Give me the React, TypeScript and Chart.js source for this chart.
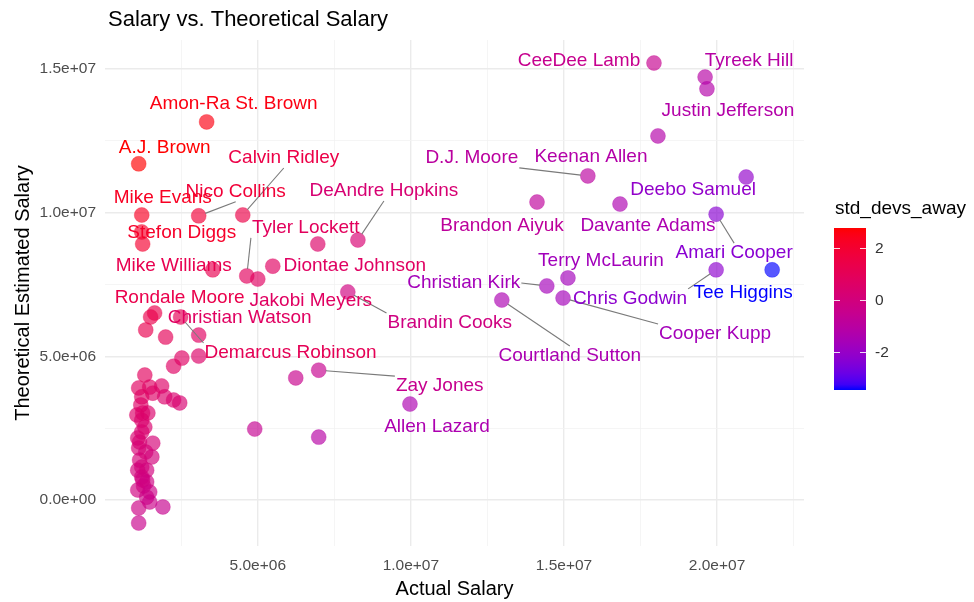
import React, { useEffect, useRef } from "react";
import { Chart, registerables } from "chart.js";

Chart.register(...registerables);

// ---------------- DATA ----------------
const playerNames: string[] = [
  "CeeDee Lamb", "Tyreek Hill", "Justin Jefferson", "Keenan Allen", "D.J. Moore",
  "Deebo Samuel", "Amari Cooper", "Davante Adams", "Brandon Aiyuk", "DeAndre Hopkins",
  "Terry McLaurin", "Christian Kirk", "Cooper Kupp", "Chris Godwin", "Tee Higgins",
  "Courtland Sutton", "Brandin Cooks", "Jakobi Meyers", "Tyler Lockett", "Diontae Johnson",
  "Calvin Ridley", "Nico Collins", "Mike Evans", "Stefon Diggs", "Mike Williams",
  "A.J. Brown", "Amon-Ra St. Brown", "Rondale Moore", "Demarcus Robinson", "Christian Watson",
  "Zay Jones", "Allen Lazard",
  "", "", "", "", "", "", "", "", "", "", "", "", "", "", "", "", "", "", "", "", "", "", "", "",
  "", "", "", "", "", "", "", "", "", "", "", "", "", "", "", "", "", "", "", "", "", "", "", "",
];

const actualSalary: number[] = [
  17940000, 19610000, 19670000, 18070000, 15780000,
  20950000, 19970000, 16830000, 14120000, 8270000,
  15130000, 14440000, 14970000, 19970000, 21800000,
  12970000, 7940000, 5000000, 4640000, 5490000,
  4510000, 3070000, 1210000, 1210000, 3530000,
  1110000, 3330000, 1630000, 2480000, 3070000,
  6990000, 9970000,
  6960000, 1240000, 1500000, 6240000, 4900000, 6990000, 3070000, 2520000,
  2250000, 1990000, 1340000, 1310000, 1110000, 1470000, 1860000, 1570000,
  1960000, 1210000, 2450000, 2250000, 1180000, 1240000, 1410000, 1050000,
  1210000, 1310000, 1210000, 1080000, 1140000, 1570000, 1110000, 1340000,
  1540000, 1140000, 1210000, 1370000, 1080000, 1210000, 1240000, 1370000,
  1270000, 1080000, 1470000, 1370000, 1470000, 1110000, 1900000, 1110000,
];

const theoreticalSalary: number[] = [
  15210000, 14720000, 14310000, 12670000, 11280000,
  11240000, 9950000, 10300000, 10370000, 9050000,
  7730000, 7450000, 7030000, 8010000, 8010000,
  6960000, 7240000, 7690000, 7800000, 8140000,
  9920000, 9890000, 9920000, 9330000, 8010000,
  11700000, 13160000, 6510000, 6370000, 5740000,
  4520000, 3340000,
  8910000, 8910000, 6370000, 4250000, 2470000, 2190000, 5010000, 4940000,
  4660000, 5670000, 5920000, 4350000, 3900000, 3930000, 3970000, 3720000,
  3590000, 3590000, 3380000, 3480000, 3310000, 3030000, 3030000, 2960000,
  2780000, 2540000, 2370000, 2160000, 2020000, 1980000, 1810000, 1670000,
  1500000, 1390000, 1150000, 1040000, 1040000, 800000, 700000, 630000,
  490000, 350000, 280000, 100000, -70000, -280000, -240000, -800000,
];

const stdDevsAway: number[] = [
  -0.5, -1.1, -1.2, -1.2, -0.95,
  -2.1, -2.3, -1.4, -0.85, 0.26,
  -1.7, -1.65, -1.65, -2.2, -3.46,
  -1.45, -0.12, 0.75, 0.87, 0.74,
  1.45, 1.81, 2.29, 2.14, 1.21,
  2.77, 2.58, 1.31, 1.06, 0.75,
  -0.5, -1.4,
  0.56, 2.02, 1.31, -0.44, -0.56, -1.1, 0.56, 0.68,
  0.68, 1.0, 1.23, 0.84, 0.78, 0.69, 0.6, 0.61,
  0.48, 0.67, 0.3, 0.38, 0.61, 0.52, 0.48, 0.55,
  0.47, 0.38, 0.36, 0.34, 0.29, 0.17, 0.24, 0.15,
  0.05, 0.13, 0.05, -0.02, 0.05, -0.04, -0.07, -0.13,
  -0.14, -0.12, -0.24, -0.26, -0.33, -0.29, -0.48, -0.42,
];

const xMajorTicks: number[] = [5000000, 10000000, 15000000, 20000000];
const xMinorTicks: number[] = [2500000, 7500000, 12500000, 17500000, 22500000];
const yMajorTicks: number[] = [0, 5000000, 10000000, 15000000];
const yMinorTicks: number[] = [2500000, 7500000, 12500000];
const legendTicks: number[] = [-2, 0, 2];

const chartTitle = "Salary vs. Theoretical Salary";
const xAxisTitle = "Actual Salary";
const yAxisTitle = "Theoretical Estimated Salary";
const legendTitle = "std_devs_away";

// ---------------- LAYOUT (label placement offsets in px, relative to point) ----------------
const labelOffsets: Record<string, [number, number]> = {
  "CeeDee Lamb": [-75, -2],
  "Tyreek Hill": [44, -16],
  "Justin Jefferson": [21, 22],
  "Keenan Allen": [-67, 21],
  "D.J. Moore": [-116, -18],
  "Deebo Samuel": [-53, 13],
  "Amari Cooper": [18, 39],
  "Davante Adams": [28, 22],
  "Brandon Aiyuk": [-35, 24],
  "DeAndre Hopkins": [26, -49],
  "Terry McLaurin": [33, -17],
  "Christian Kirk": [-83, -3],
  "Cooper Kupp": [152, 36],
  "Chris Godwin": [-86, 29],
  "Tee Higgins": [-29, 23],
  "Courtland Sutton": [68, 56],
  "Brandin Cooks": [102, 31],
  "Jakobi Meyers": [53, 22],
  "Tyler Lockett": [59, -48],
  "Diontae Johnson": [82, 0],
  "Calvin Ridley": [41, -57],
  "Nico Collins": [37, -24],
  "Mike Evans": [21, -17],
  "Stefon Diggs": [40, 1],
  "Mike Williams": [-39, -4],
  "A.J. Brown": [26, -16],
  "Amon-Ra St. Brown": [27, -18],
  "Rondale Moore": [25, -15],
  "Demarcus Robinson": [110, 36],
  "Christian Watson": [41, -17],
  "Zay Jones": [121, 16],
  "Allen Lazard": [27, 23],
};
const segmentNames = [
  "D.J. Moore", "Amari Cooper", "Chris Godwin", "Christian Kirk", "Cooper Kupp",
  "Courtland Sutton", "Brandin Cooks", "Tyler Lockett", "DeAndre Hopkins", "Calvin Ridley",
  "Nico Collins", "Demarcus Robinson", "Zay Jones",
];

const FONT = '"Liberation Sans", Arial, Helvetica, sans-serif';

// ---------------- COLOR (ggplot-like Lab gradient blue -> red) ----------------
const sMin = Math.min(...stdDevsAway);
const sMax = Math.max(...stdDevsAway);

function rgbToLab(r: number, g: number, b: number): [number, number, number] {
  const lin = (c: number) => {
    c /= 255;
    return c <= 0.04045 ? c / 12.92 : Math.pow((c + 0.055) / 1.055, 2.4);
  };
  const R = lin(r), G = lin(g), B = lin(b);
  const X = (0.4124 * R + 0.3576 * G + 0.1805 * B) / 0.95047;
  const Y = 0.2126 * R + 0.7152 * G + 0.0722 * B;
  const Z = (0.0193 * R + 0.1192 * G + 0.9505 * B) / 1.08883;
  const f = (t: number) => (t > 0.008856 ? Math.cbrt(t) : 7.787 * t + 16 / 116);
  const fx = f(X), fy = f(Y), fz = f(Z);
  return [116 * fy - 16, 500 * (fx - fy), 200 * (fy - fz)];
}
function labToRgb(L: number, a: number, b: number): [number, number, number] {
  const fy = (L + 16) / 116;
  const fx = fy + a / 500;
  const fz = fy - b / 200;
  const inv = (t: number) => (t * t * t > 0.008856 ? t * t * t : (t - 16 / 116) / 7.787);
  const X = inv(fx) * 0.95047, Y = inv(fy), Z = inv(fz) * 1.08883;
  const r = 3.2406 * X - 1.5372 * Y - 0.4986 * Z;
  const g = -0.9689 * X + 1.8758 * Y + 0.0415 * Z;
  const bb = 0.0557 * X - 0.204 * Y + 1.057 * Z;
  const gam = (c: number) => {
    c = Math.max(0, Math.min(1, c));
    return c <= 0.0031308 ? 12.92 * c : 1.055 * Math.pow(c, 1 / 2.4) - 0.055;
  };
  return [Math.round(gam(r) * 255), Math.round(gam(g) * 255), Math.round(gam(bb) * 255)];
}
const LOW = rgbToLab(0, 0, 255);
const HIGH = rgbToLab(255, 0, 0);
function colorFor(v: number, alpha = 1): string {
  const t = Math.max(0, Math.min(1, (v - sMin) / (sMax - sMin)));
  const [r, g, b] = labToRgb(
    LOW[0] + (HIGH[0] - LOW[0]) * t,
    LOW[1] + (HIGH[1] - LOW[1]) * t,
    LOW[2] + (HIGH[2] - LOW[2]) * t
  );
  return `rgba(${r},${g},${b},${alpha})`;
}

function fmtSci(v: number): string {
  return v.toExponential(1).replace(/e([+-])(\d)$/, "e$10$2");
}

// ggrepel-style connection: nearest corner / edge midpoint of the label box
function connection(px: number, py: number, x1: number, x2: number, y1: number, y2: number) {
  let qx: number, qy: number;
  if (px <= x1) qx = x1;
  else if (px >= x2) qx = x2;
  else qx = (x1 + x2) / 2;
  if (py <= y1) qy = y1;
  else if (py >= y2) qy = y2;
  else qy = (y1 + y2) / 2;
  return [qx, qy];
}

// ---------------- PLUGINS ----------------
const labelPlugin = {
  id: "repelLabels",
  afterDatasetsDraw(chart: any) {
    const ctx = chart.ctx;
    const xs = chart.scales.x;
    const ys = chart.scales.y;
    ctx.save();
    ctx.font = `19px ${FONT}`;
    ctx.textAlign = "center";
    ctx.textBaseline = "middle";
    const items: any[] = [];
    playerNames.forEach((name, i) => {
      if (!name || !labelOffsets[name]) return;
      const px = xs.getPixelForValue(actualSalary[i]);
      const py = ys.getPixelForValue(theoreticalSalary[i]);
      const off = labelOffsets[name];
      items.push({ name, i, px, py, lx: px + off[0], ly: py + off[1] });
    });
    ctx.strokeStyle = "#7a7a7a";
    ctx.lineWidth = 1.1;
    items.forEach((it) => {
      if (!segmentNames.includes(it.name)) return;
      const w = ctx.measureText(it.name).width;
      const [qx, qy] = connection(
        it.px, it.py,
        it.lx - w / 2 - 1, it.lx + w / 2 + 1,
        it.ly - 10, it.ly + 10
      );
      const dx = qx - it.px, dy = qy - it.py;
      const d = Math.hypot(dx, dy);
      if (d < 9) return;
      ctx.beginPath();
      ctx.moveTo(it.px + (dx / d) * 7, it.py + (dy / d) * 7);
      ctx.lineTo(qx, qy);
      ctx.stroke();
    });
    items.forEach((it) => {
      ctx.fillStyle = colorFor(stdDevsAway[it.i], 1);
      ctx.fillText(it.name, it.lx, it.ly);
    });
    ctx.restore();
  },
};

const decorPlugin = {
  id: "decor",
  afterDraw(chart: any) {
    const ctx = chart.ctx;
    ctx.save();
    ctx.fillStyle = "#000000";
    ctx.font = `22px ${FONT}`;
    ctx.textAlign = "left";
    ctx.textBaseline = "alphabetic";
    ctx.fillText(chartTitle, 108, 26);

    const barX = 834, barW = 32, barTop = 228, barBottom = 390;
    ctx.font = `19px ${FONT}`;
    ctx.textBaseline = "middle";
    ctx.fillText(legendTitle, 835, 209);
    const grad = ctx.createLinearGradient(0, barTop, 0, barBottom);
    const n = 30;
    for (let k = 0; k <= n; k++) {
      const t = k / n;
      grad.addColorStop(t, colorFor(sMax - (sMax - sMin) * t, 1));
    }
    ctx.fillStyle = grad;
    ctx.fillRect(barX, barTop, barW, barBottom - barTop);
    ctx.strokeStyle = "rgba(255,255,255,0.85)";
    ctx.lineWidth = 1;
    ctx.font = `15.5px ${FONT}`;
    ctx.fillStyle = "#333333";
    legendTicks.forEach((v) => {
      const y = Math.round(barBottom - ((v - sMin) / (sMax - sMin)) * (barBottom - barTop)) + 0.5;
      ctx.beginPath();
      ctx.moveTo(barX, y);
      ctx.lineTo(barX + 6, y);
      ctx.moveTo(barX + barW - 6, y);
      ctx.lineTo(barX + barW, y);
      ctx.stroke();
      ctx.fillText(String(v), barX + barW + 9, y);
    });
    ctx.restore();
  },
};

const xAll = [...xMajorTicks, ...xMinorTicks].sort((a, b) => a - b);
const yAll = [...yMajorTicks, ...yMinorTicks].sort((a, b) => a - b);

export default function App() {
  const ref = useRef<HTMLCanvasElement | null>(null);
  useEffect(() => {
    if (!ref.current) return;
    const gridColor = (majors: number[]) => (c: any) =>
      majors.includes(c.tick?.value) ? "#EBEBEB" : "#F2F2F2";
    const gridWidth = (majors: number[]) => (c: any) =>
      majors.includes(c.tick?.value) ? 1.4 : 0.8;
    const chart = new Chart(ref.current, {
      type: "scatter",
      data: {
        datasets: [
          {
            data: actualSalary.map((x, i) => ({ x, y: theoreticalSalary[i] })),
            backgroundColor: stdDevsAway.map((v) => colorFor(v, 0.66)),
            borderColor: stdDevsAway.map((v) => colorFor(v, 0.3)),
            borderWidth: 1,
            pointRadius: 7.5,
            pointHoverRadius: 7.5,
          },
        ],
      },
      options: {
        responsive: false,
        animation: false,
        events: [],
        layout: { padding: { top: 40, right: 170, left: 0, bottom: 0 } },
        plugins: {
          legend: { display: false },
          tooltip: { enabled: false },
          title: { display: false },
        },
        scales: {
          x: {
            type: "linear",
            min: 10000,
            max: 22840000,
            afterBuildTicks: (s: any) => {
              s.ticks = xAll.map((v) => ({ value: v }));
            },
            afterFit: (s: any) => {
              s.height = 56;
            },
            border: { display: false },
            grid: { color: gridColor(xMajorTicks), lineWidth: gridWidth(xMajorTicks), drawTicks: false },
            ticks: {
              autoSkip: false,
              maxRotation: 0,
              padding: 10,
              color: "#4D4D4D",
              font: { family: FONT, size: 15.5 },
              callback: (v: any) => (xMajorTicks.includes(v) ? fmtSci(v) : ""),
            },
            title: {
              display: true,
              text: xAxisTitle,
              color: "#000000",
              font: { family: FONT, size: 20 },
              padding: { top: 0, bottom: 1 },
            },
          },
          y: {
            type: "linear",
            min: -1600000,
            max: 16010000,
            afterBuildTicks: (s: any) => {
              s.ticks = yAll.map((v) => ({ value: v }));
            },
            afterFit: (s: any) => {
              s.width = 105;
            },
            border: { display: false },
            grid: { color: gridColor(yMajorTicks), lineWidth: gridWidth(yMajorTicks), drawTicks: false },
            ticks: {
              autoSkip: false,
              padding: 9,
              color: "#4D4D4D",
              font: { family: FONT, size: 15.5 },
              callback: (v: any) => (yMajorTicks.includes(v) ? fmtSci(v) : ""),
            },
            title: {
              display: true,
              text: yAxisTitle,
              color: "#000000",
              font: { family: FONT, size: 20 },
              padding: { top: 11, bottom: 0 },
            },
          },
        },
      },
      plugins: [labelPlugin, decorPlugin],
    } as any);
    return () => chart.destroy();
  }, []);
  return (
    <div style={{ position: "fixed", left: 0, top: 0, width: 974, height: 602, background: "#ffffff" }}>
      <canvas ref={ref} width={974} height={602} style={{ display: "block" }} />
    </div>
  );
}
